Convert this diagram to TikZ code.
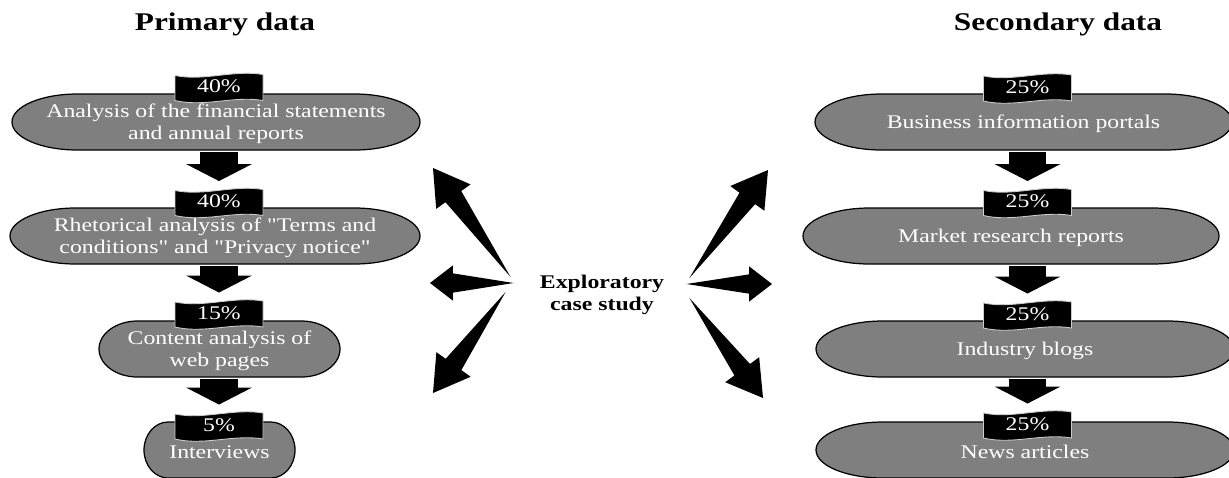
\documentclass[tikz,border=0pt]{standalone}
\usepackage{fontspec}
\setmainfont{Liberation Serif}[FakeStretch=1.23, Ligatures=TeXOff]
\usetikzlibrary{arrows.meta,calc}
\definecolor{boxgray}{HTML}{7F7F7F}
\tikzset{
  pill/.style={draw=black, fill=boxgray, line width=0.7pt},
  pilltext/.style={text=white, font=\fontsize{11}{12.5}\selectfont, align=center, inner sep=0pt},
  flagshape/.style={fill=black, draw=black!20, line width=0.5pt},
  flagtext/.style={text=white, font=\fontsize{11}{12.5}\selectfont, inner sep=0pt,
    minimum width=49.9pt, minimum height=15.9pt},
  blockarrow/.style={line width=21.5pt, -{Triangle[length=9.6pt, width=36.9pt]}},
  heading/.style={font=\fontsize{14.5}{17}\selectfont\bfseries},
  hubtext/.style={font=\fontsize{11}{12.5}\selectfont\bfseries, align=center, inner sep=0pt},
}
\begin{document}
\begin{tikzpicture}[x=0.02cm, y=-0.02cm]
  \useasboundingbox (0,0) rectangle (1229,477);

  % headings
  \node[heading] (primary) at (225,24) {Primary data};
  \node[heading] (secondary) at (1058,24) {Secondary data};

  % terminator boxes with their percentage flags
  \foreach \n/\bx/\by/\bw/\fx/\fy/\pct/\txt in {
      l1/216/122/408/219/87.5/40\%/{Analysis of the financial statements\\and annual reports},
      l2/215/236/410/219/202.5/40\%/{Rhetorical analysis of "Terms and\\conditions" and "Privacy notice"},
      l3/219.5/349/241/219/314/15\%/{Content analysis of\\web pages},
      l4/219.5/450/151/219/426/5\%/{Interviews},
      r1/1023.5/122/417/1027.5/88/25\%/{Business information portals},
      r2/1011/236/416/1027.5/202.5/25\%/{Market research reports},
      r3/1025/349/418/1027.5/315/25\%/{Industry blogs},
      r4/1025/450/418/1027.5/425/25\%/{News articles}}{
    \pgfmathsetmacro\ba{0.16*\bw}
    \pgfmathsetmacro\bl{\bx-\bw/2}
    \pgfmathsetmacro\br{\bx+\bw/2}
    \pgfmathsetmacro\bt{\by-28}
    \pgfmathsetmacro\bb{\by+28}
    \filldraw[pill] (\bl+\ba,\bt) -- (\br-\ba,\bt)
      .. controls (\br-0.448*\ba,\bt) and (\br,\by-15.5) .. (\br,\by)
      .. controls (\br,\by+15.5) and (\br-0.448*\ba,\bb) .. (\br-\ba,\bb)
      -- (\bl+\ba,\bb)
      .. controls (\bl+0.448*\ba,\bb) and (\bl,\by+15.5) .. (\bl,\by)
      .. controls (\bl,\by-15.5) and (\bl+0.448*\ba,\bt) .. (\bl+\ba,\bt) -- cycle;
    \node[pilltext, minimum width=\bw*0.5669pt, minimum height=31.7pt] (\n) at (\bx,\by+2) {\txt};
    \filldraw[flagshape] (\fx-44,\fy-12) .. controls (\fx-15,\fy-6) and (\fx+15,\fy-18) .. (\fx+44,\fy-13)
      -- (\fx+44,\fy+13) .. controls (\fx+15,\fy+8) and (\fx-15,\fy+20) .. (\fx-44,\fy+13) -- cycle;
    \node[flagtext] (f\n) at (\fx,\fy-1) {\pct};
  }

  % arrows down each column
  \foreach \a/\b in {l1/l2, l2/l3, l3/l4, r1/r2, r2/r3, r3/r4}
    \draw[blockarrow] (f\b.north |- \a.south) -- ([yshift=3.5pt]f\b.north);

  % centre and its tapered arrows
  \node[hubtext] (hub) at (602,295) {Exploratory\\case study};
  \coordinate (tLU) at ($(hub.west)+(-29,-18)$);
  \coordinate (tL) at ($(hub.west)+(-26,-12)$);
  \coordinate (tLD) at ($(hub.west)+(-34,-3)$);
  \coordinate (tRU) at ($(hub.east)+(25,-17)$);
  \coordinate (tR) at ($(hub.east)+(22,-11)$);
  \coordinate (tRD) at ($(hub.east)+(25,3)$);
  \coordinate (LU) at (433,168);
  \coordinate (L) at (430,283);
  \coordinate (LD) at (433,393);
  \coordinate (RU) at (768,170);
  \coordinate (R) at (772,284);
  \coordinate (RD) at (763,398);
  \foreach \src/\dst/\hl/\hw in {tLU/LU/20pt/12pt, tL/L/13pt/10pt, tLD/LD/20pt/12pt,
      tRU/RU/20pt/12pt, tR/R/13pt/10pt, tRD/RD/20pt/12pt}{
    \coordinate (hb) at ($(\dst)!\hl!(\src)$);
    \fill (\src) -- ($(hb)!5.5pt!90:(\dst)$) -- ($(hb)!\hw!90:(\dst)$) -- (\dst)
      -- ($(hb)!\hw!-90:(\dst)$) -- ($(hb)!5.5pt!-90:(\dst)$) -- cycle;
  }
\end{tikzpicture}
\end{document}
